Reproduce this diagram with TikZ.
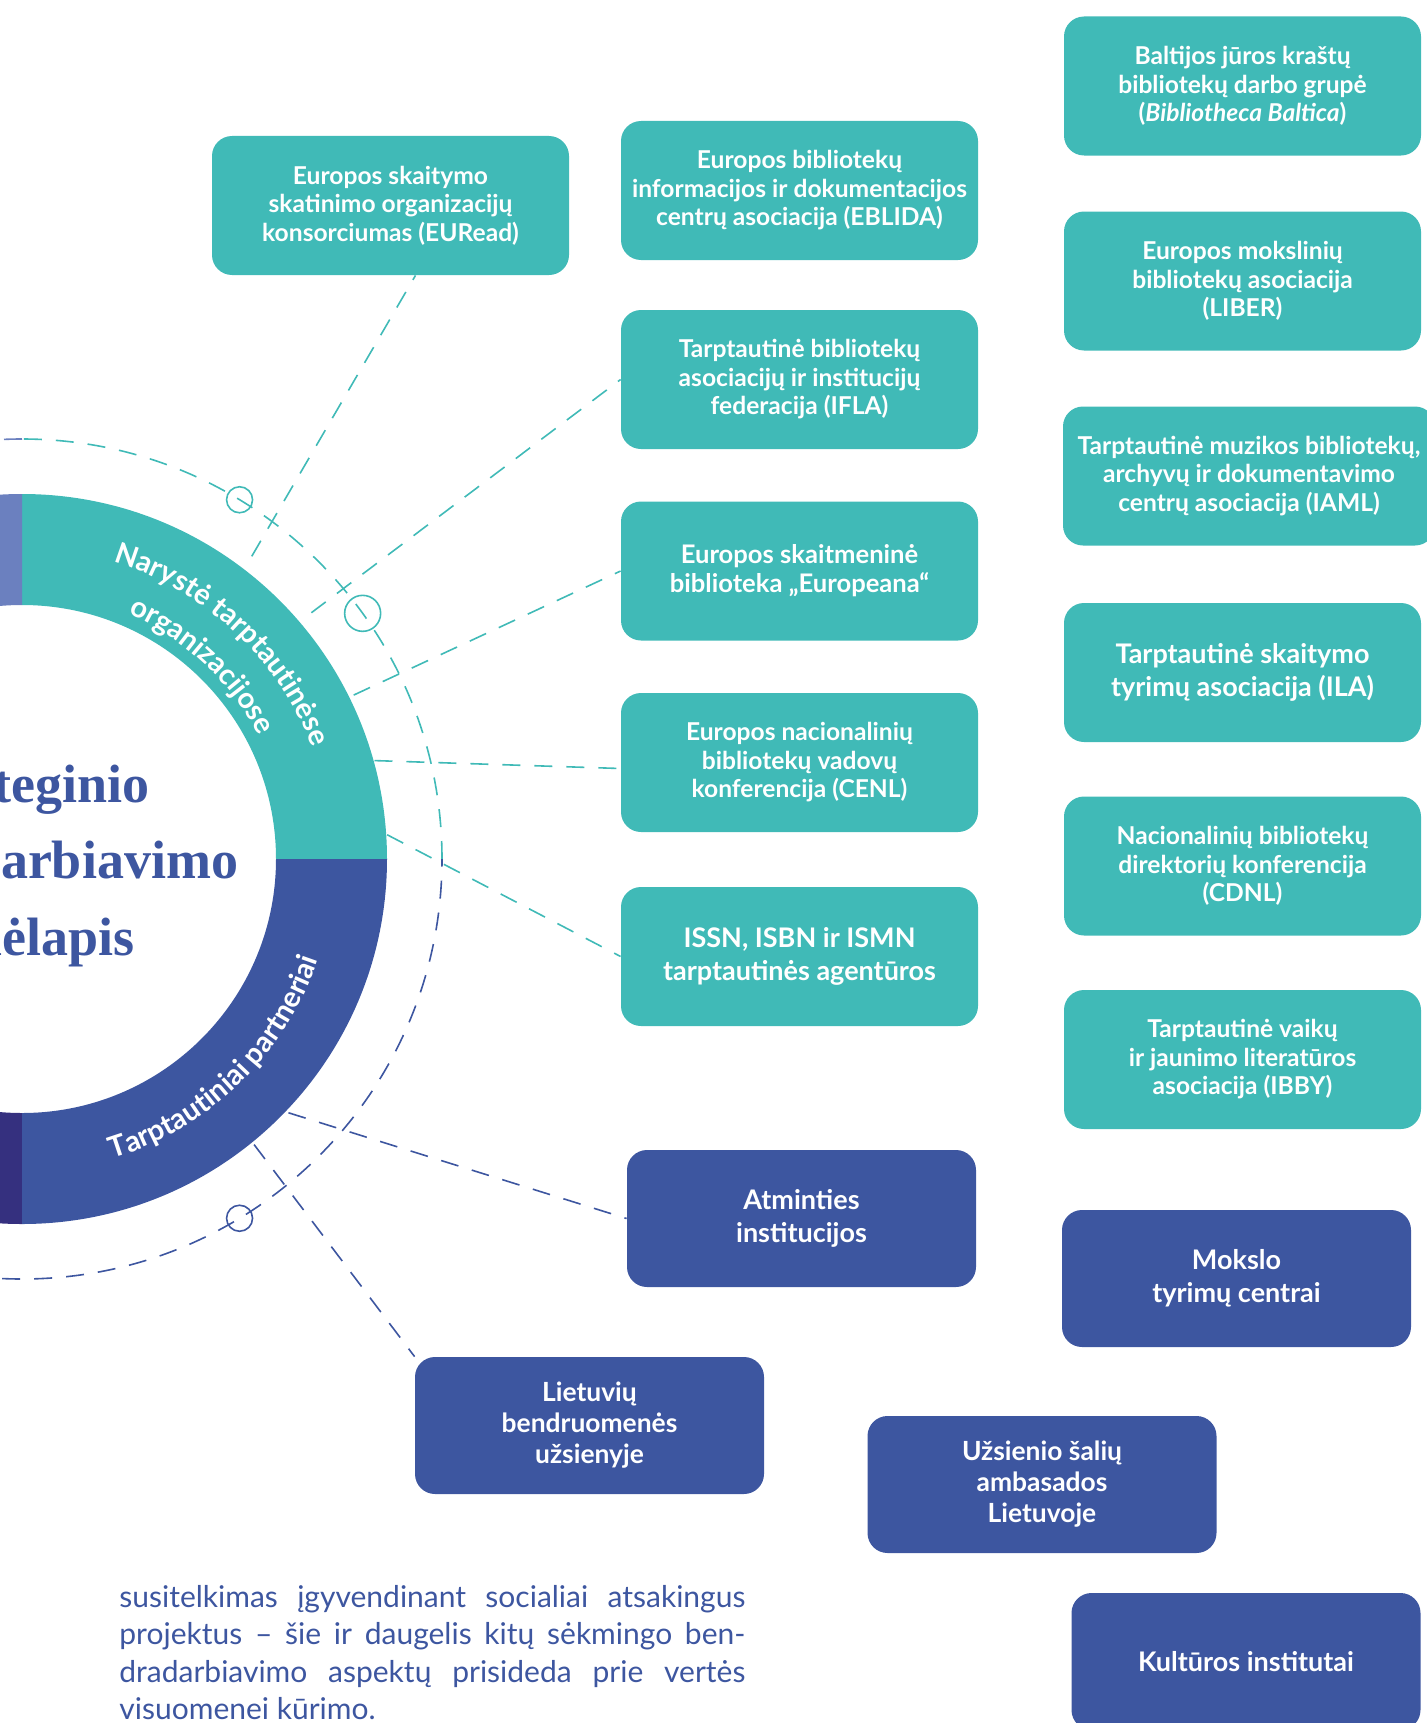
\documentclass[tikz,border=0pt]{standalone}
\usepackage{fontspec}
\setmainfont{Lato}
\newfontfamily\titlefont{Liberation Serif}
\usetikzlibrary{decorations.text}
\definecolor{mapteal}{HTML}{40BAB7}
\definecolor{mapblue}{HTML}{3D56A0}
\definecolor{mapviolet}{HTML}{6B80BF}
\definecolor{mapdeep}{HTML}{35307F}
\tikzset{
	coop map/.cd,
	box/.style = {
		rectangle,
		rounded corners = 10pt,
		inner sep = 0pt,
		text = white,
		align = center,
		font = \bfseries\fontsize{12.3}{14.25}\selectfont
	},
	member/.style = {
		coop map/box,
		fill = mapteal,
		minimum width = 178.5pt,
		minimum height = 69.5pt
	},
	partner/.style = {
		coop map/box,
		fill = mapblue,
		minimum width = 174.5pt,
		minimum height = 68.5pt,
		font = \bfseries\fontsize{13.5}{16.5}\selectfont
	},
}
\begin{document}
\begin{tikzpicture}[x = 0.5pt, y = 0.5pt,
		link/.style = {dash pattern = on 9pt off 7pt, line width = 0.8pt},
		ring label/.style = {
			decorate,
			decoration = {text along path, text align = center, text color = white}
		}]
		\useasboundingbox (0, 0) rectangle (1427, -1723);
		\coordinate (ctr) at (22, -859);
		\begin{scope}[shift = {(ctr)}]
			\fill[mapteal] (0:365) arc[start angle = 0, end angle = 90, radius = 182.5pt] -- (90:254) arc[start angle = 90, end angle = 0, radius = 127pt] -- cycle;
			\fill[mapviolet] (90:365) arc[start angle = 90, end angle = 180, radius = 182.5pt] -- (180:254) arc[start angle = 180, end angle = 90, radius = 127pt] -- cycle;
			\fill[mapdeep] (180:365) arc[start angle = 180, end angle = 270, radius = 182.5pt] -- (270:254) arc[start angle = 270, end angle = 180, radius = 127pt] -- cycle;
			\fill[mapblue] (270:365) arc[start angle = 270, end angle = 360, radius = 182.5pt] -- (0:254) arc[start angle = 360, end angle = 270, radius = 127pt] -- cycle;
			\draw[link, mapteal] (0:420) arc[start angle = 0, end angle = 90, radius = 210pt];
			\draw[link, mapviolet] (90:420) arc[start angle = 90, end angle = 180, radius = 210pt];
			\draw[link, mapblue] (180:420) arc[start angle = 180, end angle = 360, radius = 210pt];
			\draw[mapteal, line width = 0.8pt] (58.8:420) circle[radius = 6.5pt];
			\draw[mapteal, line width = 0.8pt] (35.8:420) circle[radius = 9pt];
			\draw[mapblue, line width = 0.8pt] (-58.8:420) circle[radius = 6.5pt];
			\path[ring label, decoration = {text = {|\bfseries\fontsize{14.5}{18}\selectfont|Narystė tarptautinėse}}]
				(82:311) arc[start angle = 82, end angle = 12, radius = 155.5pt];
			\path[ring label, decoration = {text = {|\bfseries\fontsize{14.5}{18}\selectfont|organizacijose}}]
				(82:267) arc[start angle = 82, end angle = 12, radius = 133.5pt];
			\path[ring label, decoration = {text = {|\bfseries\fontsize{14.5}{18}\selectfont|Tarptautiniai partneriai}}]
				(-86:313) arc[start angle = -86, end angle = -6, radius = 156.5pt];
			\coordinate (e1) at (52.8:380);
			\coordinate (e2) at (40.4:380);
			\coordinate (e3) at (26.3:370);
			\coordinate (e4) at (15.6:366);
			\coordinate (e5) at (3.8:366);
			\coordinate (e6) at (-43.6:368);
			\coordinate (e7) at (-50.9:368);
		\end{scope}
		\begin{scope}[anchor = base, inner sep = 0pt, text = mapblue, font = \titlefont\bfseries\fontsize{27}{30}\selectfont]
			\node (ttl1) at (22, -802) {Strateginio};
			\node (ttl2) at (22, -878) {bendradarbiavimo};
			\node (ttl3) at (22, -955) {žemėlapis};
		\end{scope}
		\node[coop map/member] (eurd) at (390.5, -205.5) {Europos skaitymo\\skatinimo organizacijų\\konsorciumas (EURead)};
		\node[coop map/member] (ebl) at (799.5, -190.5) {Europos bibliotekų\\informacijos ir dokumentacijos\\centrų asociacija (EBLIDA)};
		\node[coop map/member] (ifla) at (799.5, -379.5) {Tarptautinė bibliotekų\\asociacijų ir institucijų\\federacija (IFLA)};
		\node[coop map/member, font = \bfseries\fontsize{12.8}{14.5}\selectfont] (eur) at (799.5, -571) {Europos skaitmeninė\\biblioteka „Europeana“};
		\node[coop map/member] (cenl) at (799.5, -762.5) {Europos nacionalinių\\bibliotekų vadovų\\konferencija (CENL)};
		\node[coop map/member, font = \bfseries\fontsize{13.5}{16.5}\selectfont] (issn) at (799.5, -956.5) {ISSN, ISBN ir ISMN\\tarptautinės agentūros};
		\node[coop map/member] (balt) at (1242.5, -86) {Baltijos jūros kraštų\\bibliotekų darbo grupė\\(\textit{Bibliotheca Baltica})};
		\node[coop map/member] (liber) at (1242.5, -281) {Europos mokslinių\\bibliotekų asociacija\\(LIBER)};
		\node[coop map/member, minimum width = 186pt] (iaml) at (1249, -476) {Tarptautinė muzikos bibliotekų,\\archyvų ir dokumentavimo\\centrų asociacija (IAML)};
		\node[coop map/member, font = \bfseries\fontsize{13.5}{16.5}\selectfont] (ila) at (1242.5, -672.5) {Tarptautinė skaitymo\\tyrimų asociacija (ILA)};
		\node[coop map/member] (cdnl) at (1242.5, -866) {Nacionalinių bibliotekų\\direktorių konferencija\\(CDNL)};
		\node[coop map/member] (ibby) at (1242.5, -1059.5) {Tarptautinė vaikų\\ir jaunimo literatūros\\asociacija (IBBY)};
		\node[coop map/partner] (atm) at (801.5, -1218.5) {Atminties\\institucijos};
		\node[coop map/partner] (moks) at (1236.5, -1278.5) {Mokslo\\tyrimų centrai};
		\node[coop map/partner, font = \bfseries\fontsize{13.2}{15.5}\selectfont] (liet) at (589.5, -1425.5) {Lietuvių\\bendruomenės\\užsienyje};
		\node[coop map/partner, font = \bfseries\fontsize{13.2}{15.5}\selectfont] (uzs) at (1042, -1484.5) {Užsienio šalių\\ambasados\\Lietuvoje};
		\node[coop map/partner] (kult) at (1246, -1661.5) {Kultūros institutai};
		\draw[link, mapteal] (e1) -- ([xshift = 12.5pt]eurd.south);
		\draw[link, mapteal] (e2) -- (ifla.west);
		\draw[link, mapteal] (e3) -- (eur.west);
		\draw[link, mapteal] (e4) -- ([yshift = -3pt]cenl.west);
		\draw[link, mapteal] (e5) -- (issn.west);
		\draw[link, mapblue] (e6) -- (atm.west);
		\draw[link, mapblue] (e7) -- (liet.north west);
		\node[anchor = north west, inner sep = 0pt, text width = 313pt, align = justify, text = mapblue, font = \fontsize{15}{18.7}\selectfont] (note) at (119, -1585)
			{\tolerance = 10000 susitelkimas įgyvendinant socialiai atsakingus\linebreak projektus – šie ir daugelis kitų sėkmingo ben-\linebreak dradarbiavimo aspektų prisideda prie vertės\linebreak visuomenei kūrimo.};
	\end{tikzpicture}
\end{document}
